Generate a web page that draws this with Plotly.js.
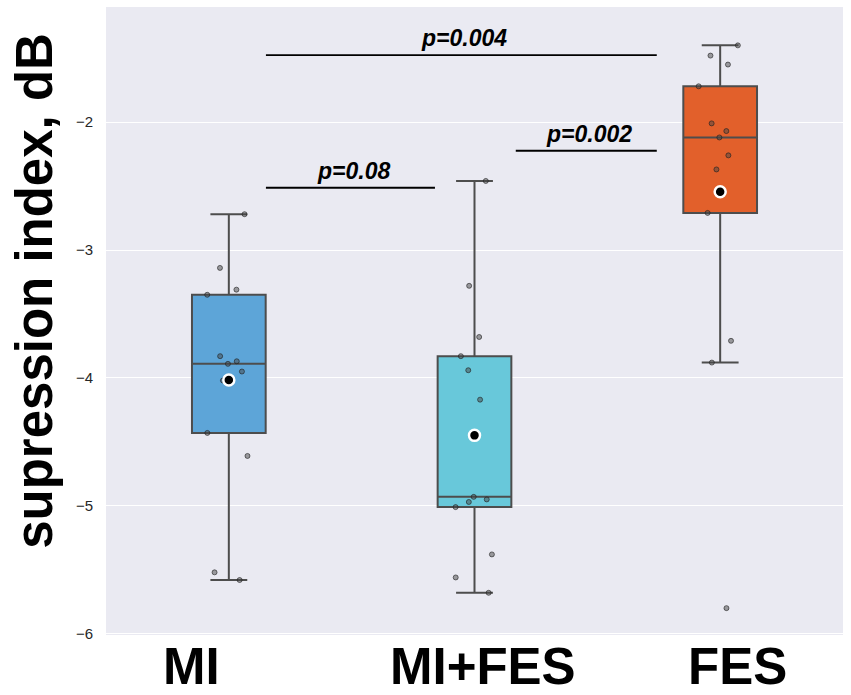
<!DOCTYPE html>
<html>
<head>
<meta charset="utf-8">
<script src="https://cdn.plot.ly/plotly-3.0.1.min.js"></script>
<style>
  html, body { margin: 0; padding: 0; background: #fff; }
  #myDiv { width: 851px; height: 695px; }
</style>
</head>
<body>
<div id="myDiv"></div>
<script>
// groups and per-subject values
const groups = ['MI', 'MI+FES', 'FES'];
const miVals = [-2.72, -3.14, -3.31, -3.35, -3.83, -3.89, -3.87, -3.95, -4.02, -4.43, -4.61, -5.52, -5.58];
const mifesVals = [-2.46, -3.28, -3.68, -3.83, -3.94, -4.17, -4.95, -4.97, -4.93, -5.01, -5.38, -5.56, -5.68];
const fesVals = [-1.40, -1.48, -1.55, -1.72, -2.01, -2.07, -2.12, -2.26, -2.37, -2.71, -3.71, -3.88, -5.80];
const boxColors = ['#5da5d8', '#68c8da', '#e2602b'];
const pTexts = ['p=0.08', 'p=0.002', 'p=0.004'];
const yTitle = 'supression index, dB';

const allVals = [miVals, mifesVals, fesVals];
const mean = arr => arr.reduce((a, b) => a + b, 0) / arr.length;

var data = allVals.map((vals, i) => ({
    type: 'box',
    x: vals.map(() => groups[i]),
    y: vals,
    name: groups[i],
    quartilemethod: 'inclusive',
    boxpoints: 'all',
    jitter: 0.8,
    pointpos: 0,
    width: 0.3,
    whiskerwidth: 0.5,
    fillcolor: boxColors[i],
    line: { color: '#4d4d4d', width: 2 },
    marker: { color: 'rgba(70,70,70,0.5)', size: 5,
              line: { color: 'rgba(30,30,30,0.6)', width: 1 } },
    hoverinfo: 'y',
    showlegend: false
}));

data.push({
    type: 'scatter',
    mode: 'markers',
    x: groups,
    y: allVals.map(mean),
    marker: { color: '#000', size: 11, line: { color: '#fff', width: 2.5 } },
    showlegend: false
});

// significance bars: [x0, x1, y] in axis units
const bars = [[0.151, 0.839, -2.513], [1.168, 1.742, -2.224], [0.151, 1.742, -1.477]];

var shapes = bars.map(b => ({
    type: 'line', xref: 'x', yref: 'y',
    x0: b[0], x1: b[1], y0: b[2], y1: b[2],
    line: { color: '#000', width: 1.8 }
}));

var annotations = bars.map((b, i) => ({
    xref: 'x', yref: 'y',
    x: (b[0] + b[1]) / 2, y: b[2],
    yanchor: 'bottom', yshift: 2, xshift: 3,
    text: pTexts[i], showarrow: false,
    font: { family: 'Liberation Sans, Arial, sans-serif', size: 23, style: 'italic', weight: 'bold', color: '#000' }
}));

// group names drawn under the plot
const labelX = [-0.15, 1.034, 2.07];
groups.forEach((g, i) => annotations.push({
    xref: 'x', yref: 'paper', x: labelX[i], y: 0,
    yanchor: 'middle', yshift: -31,
    text: g, showarrow: false,
    font: { family: 'Liberation Sans, Arial, sans-serif', size: 51, weight: 'bold', color: '#000' }
}));

// y title, placed by hand a little above the axis centre
annotations.push({
    xref: 'paper', yref: 'paper', x: 0, y: 0.548,
    xanchor: 'center', yanchor: 'middle', xshift: -71,
    textangle: -90, text: yTitle, showarrow: false,
    font: { family: 'Liberation Sans, Arial, sans-serif', size: 51, weight: 'bold', color: '#000' }
});

var layout = {
    width: 851, height: 695,
    margin: { l: 106, r: 8, t: 7, b: 60 },
    paper_bgcolor: '#fff',
    plot_bgcolor: '#eaeaf2',
    font: { family: 'Liberation Sans, Arial, sans-serif', color: '#262626' },
    xaxis: {
        type: 'category', range: [-0.5, 2.5],
        showticklabels: false, showgrid: false, zeroline: false
    },
    yaxis: {
        range: [-6.01, -1.10], dtick: 1,
        gridcolor: '#fff', gridwidth: 1.3, zeroline: false,
        tickfont: { size: 15 }, ticklabelstandoff: 12
    },
    shapes: shapes,
    annotations: annotations,
    showlegend: false
};

Plotly.newPlot('myDiv', data, layout, { displayModeBar: false });
</script>
</body>
</html>
